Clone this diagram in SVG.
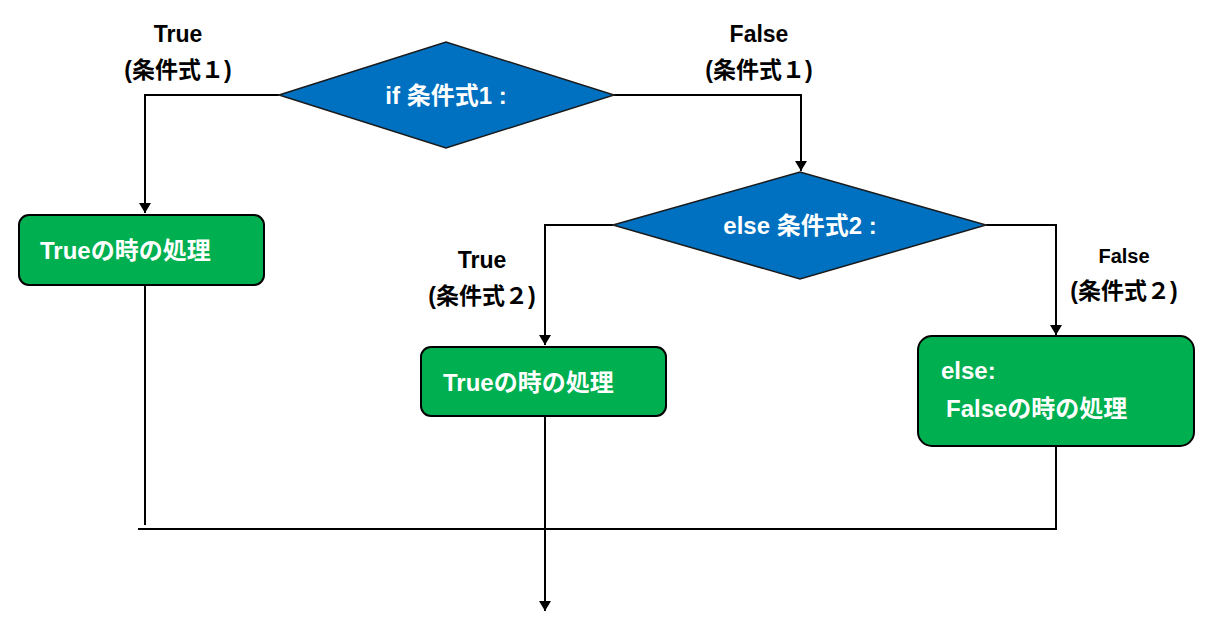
<svg xmlns="http://www.w3.org/2000/svg" width="1212" height="627" viewBox="0 0 1212 627">
<style>
.dia{fill:#0070C0;stroke:#1a1a1a;stroke-width:1.5}
.box{fill:#00B050;stroke:#000;stroke-width:2}
.ln{fill:none;stroke:#000;stroke-width:2}
.wt{fill:#fff;font-family:"Liberation Sans","Noto Sans CJK JP",sans-serif;font-weight:bold;font-size:24px}
.lb{fill:#000;font-family:"Liberation Sans","Noto Sans CJK JP",sans-serif;font-weight:bold;font-size:23px;text-anchor:middle}
.lbs{font-size:20px}
</style>
<defs>
<marker id="arr" markerWidth="10" markerHeight="12" refX="10" refY="6" orient="auto" markerUnits="userSpaceOnUse">
<path d="M0,0 L10,6 L0,12 Z" fill="#000"/>
</marker>
</defs>
<rect width="1212" height="627" fill="#fff"/>
<g id="connectors">
<path class="ln" d="M279,95 H145 V213" marker-end="url(#arr)"/>
<path class="ln" d="M614,95 H801 V171" marker-end="url(#arr)"/>
<path class="ln" d="M613,225 H545 V345" marker-end="url(#arr)"/>
<path class="ln" d="M986,225 H1056 V335" marker-end="url(#arr)"/>
<path class="ln" d="M145,285 V525"/>
<path class="ln" d="M1056,446 V529 H138"/>
<path class="ln" d="M545,416 V611" marker-end="url(#arr)"/>
</g>
<g id="labels">
<text class="lb" x="178" y="42">True</text>
<text class="lb" x="178" y="78">(条件式１)</text>
<text class="lb" x="759" y="42">False</text>
<text class="lb" x="759" y="78">(条件式１)</text>
<text class="lb" x="482" y="268">True</text>
<text class="lb" x="482" y="304">(条件式２)</text>
<text class="lb lbs" x="1124" y="263">False</text>
<text class="lb" x="1124" y="299">(条件式２)</text>
</g>
<g id="if1">
<polygon class="dia" points="279,95 446,42 614,95 446,148"/>
<text class="wt" x="446" y="104" text-anchor="middle">if 条件式1 :</text>
</g>
<g id="else2">
<polygon class="dia" points="613,225 800,172 986,225 800,279"/>
<text class="wt" x="800" y="234" text-anchor="middle">else 条件式2 :</text>
</g>
<g id="true1">
<rect class="box" x="19" y="215" width="245" height="70" rx="10"/>
<text class="wt" x="40" y="259">Trueの時の処理</text>
</g>
<g id="true2">
<rect class="box" x="421" y="347" width="245" height="69" rx="10"/>
<text class="wt" x="443" y="391">Trueの時の処理</text>
</g>
<g id="false2">
<rect class="box" x="918" y="336" width="276" height="110" rx="14"/>
<text class="wt" x="941" y="379">else:</text>
<text class="wt" x="946" y="417">Falseの時の処理</text>
</g>
</svg>
